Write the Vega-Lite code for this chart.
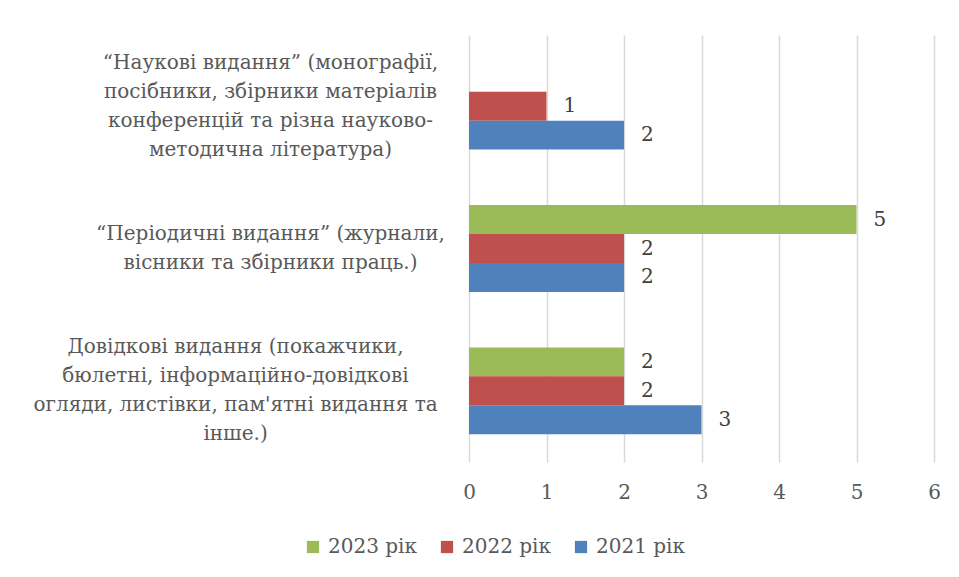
{
  "$schema": "https://vega.github.io/schema/vega-lite/v6.json",
  "width": 465,
  "height": 427,
  "autosize": {"type": "none"},
  "padding": {"left": 469, "top": 35, "right": 25, "bottom": 115},
  "background": "white",
  "config": {
    "view": {"stroke": null},
    "font": "DejaVu Serif"
  },
  "data": {
    "values": [
      {"cat": "“Наукові видання” (монографії,|посібники, збірники матеріалів|конференцій та різна науково-|методична література)", "year": "2022 рік", "v": 1},
      {"cat": "“Наукові видання” (монографії,|посібники, збірники матеріалів|конференцій та різна науково-|методична література)", "year": "2021 рік", "v": 2},
      {"cat": "“Періодичні видання”  (журнали,|вісники та збірники праць.)", "year": "2023 рік", "v": 5},
      {"cat": "“Періодичні видання”  (журнали,|вісники та збірники праць.)", "year": "2022 рік", "v": 2},
      {"cat": "“Періодичні видання”  (журнали,|вісники та збірники праць.)", "year": "2021 рік", "v": 2},
      {"cat": "Довідкові видання (покажчики,|бюлетні, інформаційно-довідкові|огляди, листівки, пам'ятні видання та|інше.)", "year": "2023 рік", "v": 2},
      {"cat": "Довідкові видання (покажчики,|бюлетні, інформаційно-довідкові|огляди, листівки, пам'ятні видання та|інше.)", "year": "2022 рік", "v": 2},
      {"cat": "Довідкові видання (покажчики,|бюлетні, інформаційно-довідкові|огляди, листівки, пам'ятні видання та|інше.)", "year": "2021 рік", "v": 3}
    ]
  },
  "encoding": {
    "y": {
      "field": "cat",
      "type": "nominal",
      "sort": null,
      "title": null,
      "scale": {"paddingInner": 0.39, "paddingOuter": 0.195},
      "axis": {
        "domain": false,
        "ticks": false,
        "tickSize": 0,
        "labelExpr": "indexof(datum.value, 'Довідкові') == 0 ? split(replace(datum.value, /\\|/g, '\u00a0\u00a0\u00a0\u00a0\u00a0\u00a0\u00a0\u00a0\u00a0\u00a0\u00a0\u200b|') + '\u00a0\u00a0\u00a0\u00a0\u00a0\u00a0\u00a0\u00a0\u00a0\u00a0\u00a0\u200b', '|') : (indexof(datum.value, '“Пер') == 0 ? split('\u00a0|' + datum.value, '|') : split(datum.value, '|'))",
        "labelAlign": "center",
        "labelBaseline": "middle",
        "labelOffset": -43.5,
        "labelPadding": 199,
        "labelLineHeight": 29,
        "labelFont": "DejaVu Serif",
        "labelFontSize": 20,
        "labelColor": "#595959",
        "labelLimit": 600,
        "labelOverlap": false
      }
    },
    "yOffset": {
      "field": "year",
      "type": "nominal",
      "sort": ["2023 рік", "2022 рік", "2021 рік"],
      "scale": {"paddingInner": 0, "paddingOuter": 0}
    },
    "x": {
      "field": "v",
      "type": "quantitative",
      "title": null,
      "scale": {"domain": [0, 6], "nice": false},
      "axis": {
        "values": [0, 1, 2, 3, 4, 5, 6],
        "domain": false,
        "ticks": false,
        "grid": true,
        "gridColor": "#D9D9D9",
        "gridWidth": 1.5,
        "labelFlush": false,
        "labelFont": "DejaVu Serif",
        "labelFontSize": 20,
        "labelColor": "#595959",
        "labelPadding": 20
      }
    }
  },
  "layer": [
    {
      "mark": {"type": "bar"},
      "encoding": {
        "color": {
          "field": "year",
          "type": "nominal",
          "sort": ["2023 рік", "2022 рік", "2021 рік"],
          "scale": {"domain": ["2023 рік", "2022 рік", "2021 рік"], "range": ["#9BBB59", "#C0504D", "#4F81BD"]},
          "legend": {
            "title": null,
            "orient": "none",
            "direction": "horizontal",
            "legendX": -166,
            "legendY": 502,
            "symbolType": "square",
            "symbolSize": 150,
            "symbolStrokeWidth": 0,
            "labelFont": "DejaVu Serif",
            "labelFontSize": 20,
            "labelColor": "#595959",
            "columnPadding": 20,
            "labelOffset": 5
          }
        }
      }
    },
    {
      "mark": {"type": "text", "align": "left", "baseline": "middle", "dx": 17, "font": "DejaVu Serif", "fontSize": 20, "color": "#404040"},
      "encoding": {
        "text": {"field": "v", "type": "quantitative"}
      }
    }
  ]
}
